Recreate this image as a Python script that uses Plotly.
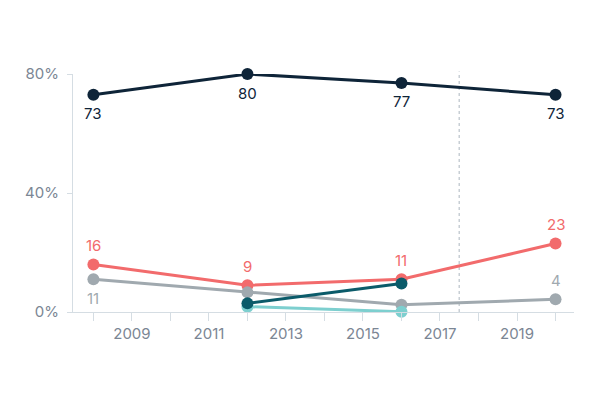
import plotly.graph_objects as go

years = [2008, 2012, 2016, 2020]
navy_vals = [73, 80, 77, 73]
coral_vals = [16, 9, 11, 23]
gray_vals = [11, 6.6, 2.4, 4.3]
teal_years = [2012, 2016]
teal_vals = [2.9, 9.6]
light_teal_vals = [1.8, 0.1]

navy_text = ["73", "80", "77", "73"]
coral_text = ["16", "9", "11", "23"]
gray_text = ["11", "", "", "4"]

y_tickvals = [0, 40, 80]
y_ticktext = ["0%", "40%", "80%"]
x_tickvals = [2009, 2011, 2013, 2015, 2017, 2019]
divider_year = 2017.5

NAVY = "#0e2438"
CORAL = "#f26b6c"
GRAY = "#a0a9af"
TEAL = "#0b5b6a"
LTEAL = "#7dcfcf"
AXIS = "#d5dde3"
TICKFONT = "#7b8694"

fig = go.Figure()

def add(x, y, color):
    fig.add_trace(go.Scatter(
        x=x, y=y, mode="lines+markers",
        line=dict(color=color, width=3),
        marker=dict(color=color, size=12),
        cliponaxis=False, hoverinfo="skip", showlegend=False,
    ))

def labels(x, y, texts, color, shifts):
    for xi, yi, t, s in zip(x, y, texts, shifts):
        if t:
            fig.add_annotation(x=xi, y=yi, text=t, showarrow=False, yshift=s,
                               font=dict(color=color, size=15, family="Inter"))

add(years, coral_vals, CORAL)
add(years, gray_vals, GRAY)
add(teal_years, light_teal_vals, LTEAL)
add(teal_years, teal_vals, TEAL)
add(years, navy_vals, NAVY)

labels(years, navy_vals, navy_text, NAVY, [-19, -19, -19, -19])
labels(years, coral_vals, coral_text, CORAL, [19, 19, 19, 19])
labels(years, gray_vals, gray_text, GRAY, [-19, 19, 19, 19])

fig.add_shape(type="line", xref="x", yref="paper", x0=divider_year, x1=divider_year,
              y0=0, y1=1.01, line=dict(color="#c8cfd5", width=1.5, dash="dot"), layer="below")

fig.update_layout(
    width=600, height=400,
    margin=dict(l=65, r=34, t=66, b=96),
    paper_bgcolor="white", plot_bgcolor="white",
    font=dict(family="Inter", size=15, color=TICKFONT),
    xaxis=dict(
        range=[2007.47, 2020.48],
        tickvals=x_tickvals,
        ticks="outside", ticklen=8, tickcolor=AXIS, tickwidth=1,
        minor=dict(dtick=1, tick0=2008, ticks="outside", ticklen=8, tickcolor=AXIS, tickwidth=1),
        showline=True, linecolor=AXIS, linewidth=1,
        showgrid=False, zeroline=False, automargin=False,
        tickfont=dict(size=15, color=TICKFONT),
    ),
    yaxis=dict(
        range=[0, 80],
        tickvals=y_tickvals, ticktext=y_ticktext,
        ticks="outside", ticklen=5, tickcolor=AXIS,
        ticklabelstandoff=5,
        showline=True, linecolor=AXIS, linewidth=1,
        showgrid=False, zeroline=False, automargin=False,
        tickfont=dict(size=15, color=TICKFONT),
    ),
)

fig.write_html("out.html")
